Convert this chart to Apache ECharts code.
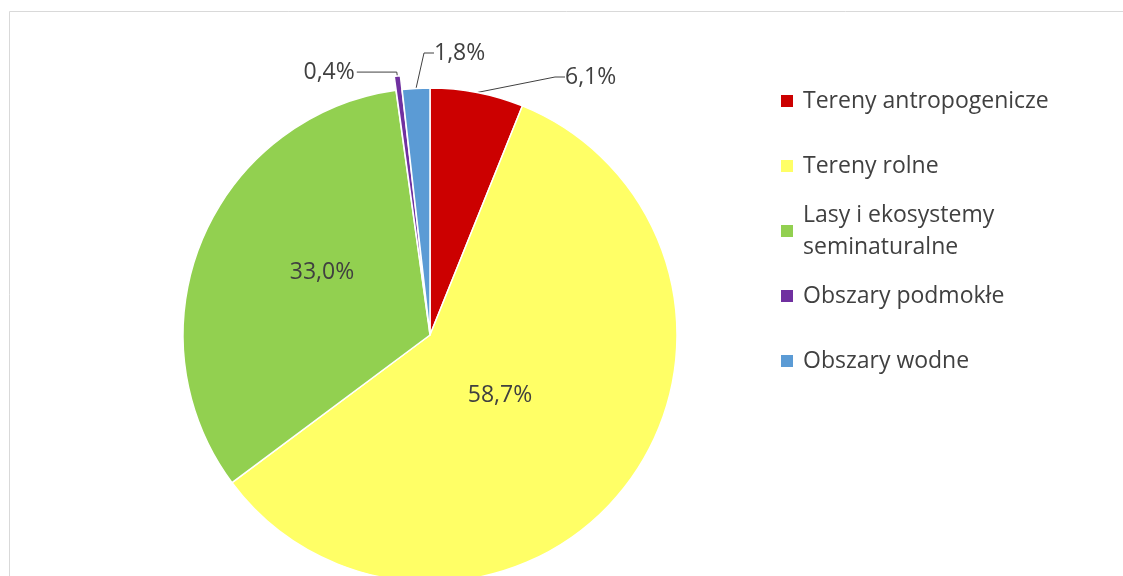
<!DOCTYPE html>
<html>
<head>
<meta charset="utf-8">
<script src="https://cdn.jsdelivr.net/npm/echarts@6/dist/echarts.min.js"></script>
<style>
  html, body { margin: 0; padding: 0; background: #fff; }
  #chart { width: 1123px; height: 576px; }
</style>
</head>
<body>
<div id="chart"></div>
<script>
// land cover shares, %
const categories = ['Tereny antropogenicze', 'Tereny rolne', 'Lasy i ekosystemy seminaturalne', 'Obszary podmokłe', 'Obszary wodne']
const shares = [6.1, 58.7, 33.0, 0.4, 1.8]
const colors = ['#CC0000', '#FFFF66', '#92D050', '#7030A0', '#5B9BD5']

const textColor = '#404040'
const fontFamily = '"Open Sans", sans-serif'

// label placement (px) - matches the excel layout, null = default outside
const labelPos = [
  { x: 565, y: 77 },
  { x: 500, y: 395, align: 'center' },
  { x: 322, y: 272, align: 'center' },
  null,
  { x: 434, y: 53 }
]
const outside = [true, false, false, true, true]
const legendY = [101, 166, 231, 296, 361]

const fmt = v => v.toFixed(1).replace('.', ',') + '%'

const chart = echarts.init(document.getElementById('chart'))

const legends = categories.map((name, i) => {
  const twoLines = name.indexOf('seminaturalne') > 0
  return {
    orient: 'vertical',
    left: 781,
    top: legendY[i] - (twoLines ? 48 : 16),
    padding: 0,
    data: [name],
    icon: 'rect',
    itemWidth: 12,
    itemHeight: 12,
    itemStyle: { borderWidth: 0 },
    selectedMode: false,
    formatter: n => n.replace(' seminaturalne', '\nseminaturalne'),
    textStyle: {
      color: textColor,
      fontFamily: fontFamily,
      fontSize: 23,
      lineHeight: 32,
      padding: twoLines ? [32, 0, 0, 5] : [0, 0, 0, 5]
    }
  }
})

chart.setOption({
  animation: false,
  graphic: [{
    type: 'rect',
    shape: { x: 9.5, y: 11.5, width: 1300, height: 800 },
    style: { fill: 'none', stroke: '#d9d9d9', lineWidth: 1 },
    silent: true
  }],
  legend: legends,
  series: [{
    type: 'pie',
    center: [430, 335],
    radius: 247,
    startAngle: 90,
    clockwise: true,
    selectedMode: 'single',
    selectedOffset: 14,
    avoidLabelOverlap: false,
    itemStyle: { borderColor: '#fff', borderWidth: 1.5 },
    label: {
      color: textColor,
      fontFamily: fontFamily,
      fontSize: 23,
      formatter: p => fmt(p.value)
    },
    labelLine: {
      lineStyle: { color: textColor, width: 1 }
    },
    labelLayout: params => {
      const p = labelPos[params.dataIndex]
      if (!p) return null
      return { x: p.x, y: p.y, align: p.align || 'left', verticalAlign: 'middle' }
    },
    emphasis: { disabled: true },
    data: categories.map((name, i) => ({
      name: name,
      value: shares[i],
      selected: i === 3,
      itemStyle: { color: colors[i] },
      label: i === 3
        ? { position: 'outside', padding: [0, 0, 14, 0], distanceToLabelLine: 2 }
        : { position: outside[i] ? 'outside' : 'inside' },
      labelLine: i === 3
        ? { show: true, length: 4, length2: 40 }
        : { show: outside[i], length: 10, length2: 10 }
    }))
  }]
})
</script>
</body>
</html>
